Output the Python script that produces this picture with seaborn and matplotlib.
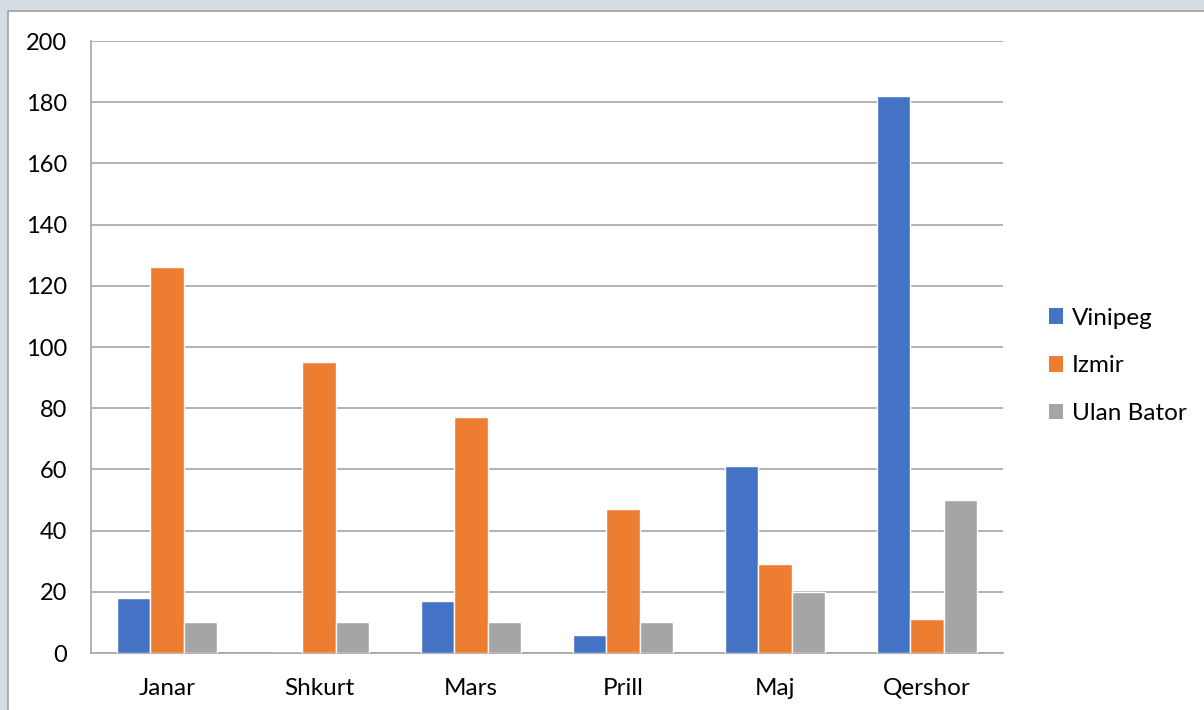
import pandas as pd
import matplotlib
matplotlib.use('Agg')
import matplotlib.pyplot as plt
import matplotlib.patches as mpatches
import seaborn as sns
import numpy as np

# Të dhënat
muajt = ['Janar', 'Shkurt', 'Mars', 'Prill', 'Maj', 'Qershor']
vinipeg = [18, 0, 17, 6, 61, 182]
izmir = [126, 95, 77, 47, 29, 11]
ulan_bator = [10, 10, 10, 10, 20, 50]
seri = ['Vinipeg', 'Izmir', 'Ulan Bator']
ngjyrat = ['#4472C4', '#ED7D31', '#A5A5A5']

df = pd.DataFrame({
    'muaji': muajt * 3,
    'qyteti': [seri[0]] * 6 + [seri[1]] * 6 + [seri[2]] * 6,
    'vlera': vinipeg + izmir + ulan_bator,
})

sns.set_style('white')
plt.rcParams['font.family'] = ['Lato', 'DejaVu Sans']
plt.rcParams['text.color'] = 'black'

fig = plt.figure(figsize=(12.04, 7.10), dpi=100, facecolor='#D6DCE4')
# panel i bardhë me kornizë
fig.patches.append(mpatches.Rectangle((8 / 1204, -0.01), 1.0, 1 - 11 / 710 + 0.01,
                                      transform=fig.transFigure, facecolor='white',
                                      edgecolor='#A0A0A0', linewidth=1.2, zorder=-5))

ax = fig.add_axes([91 / 1204, 1 - 653 / 710, (1003 - 91) / 1204, (653 - 41) / 710])
ax.set_facecolor('none')

sns.barplot(data=df, x='muaji', y='vlera', hue='qyteti', order=muajt, hue_order=seri,
            palette=ngjyrat, saturation=1, width=0.66, gap=0, edgecolor='white',
            linewidth=1, legend=False, ax=ax, zorder=3)

ax.set_ylim(0, 200)
ax.set_xlim(-0.5, 5.5)
ax.set_yticks(np.arange(0, 201, 20))
ax.set_xlabel('')
ax.set_ylabel('')
ax.grid(axis='y', color='#A6A6A6', linewidth=1.2, zorder=0)
ax.set_axisbelow(True)

for s in ['top', 'right']:
    ax.spines[s].set_visible(False)
for s in ['left', 'bottom']:
    ax.spines[s].set_color('#A6A6A6')
    ax.spines[s].set_linewidth(1.2)

ax.tick_params(axis='y', length=6, color='#A6A6A6', width=1.2, pad=11, labelsize=17, labelcolor='black')
ax.tick_params(axis='x', which='major', length=0, pad=18, labelsize=17.5, labelcolor='black')
ax.set_xticks(np.arange(-0.5, 6, 1), minor=True)
ax.tick_params(axis='x', which='minor', length=6, color='#A6A6A6', width=1.2)

handles = [mpatches.Patch(facecolor=c, edgecolor='none') for c in ngjyrat]
fig.legend(handles, seri, loc='center left', bbox_to_anchor=(1027 / 1204, 1 - 366 / 710),
           frameon=False, fontsize=17.5, handlelength=0.6, handleheight=0.6,
           handletextpad=0.35, labelspacing=1.1, labelcolor='black')

fig.savefig('out.png', dpi=100, facecolor=fig.get_facecolor())
